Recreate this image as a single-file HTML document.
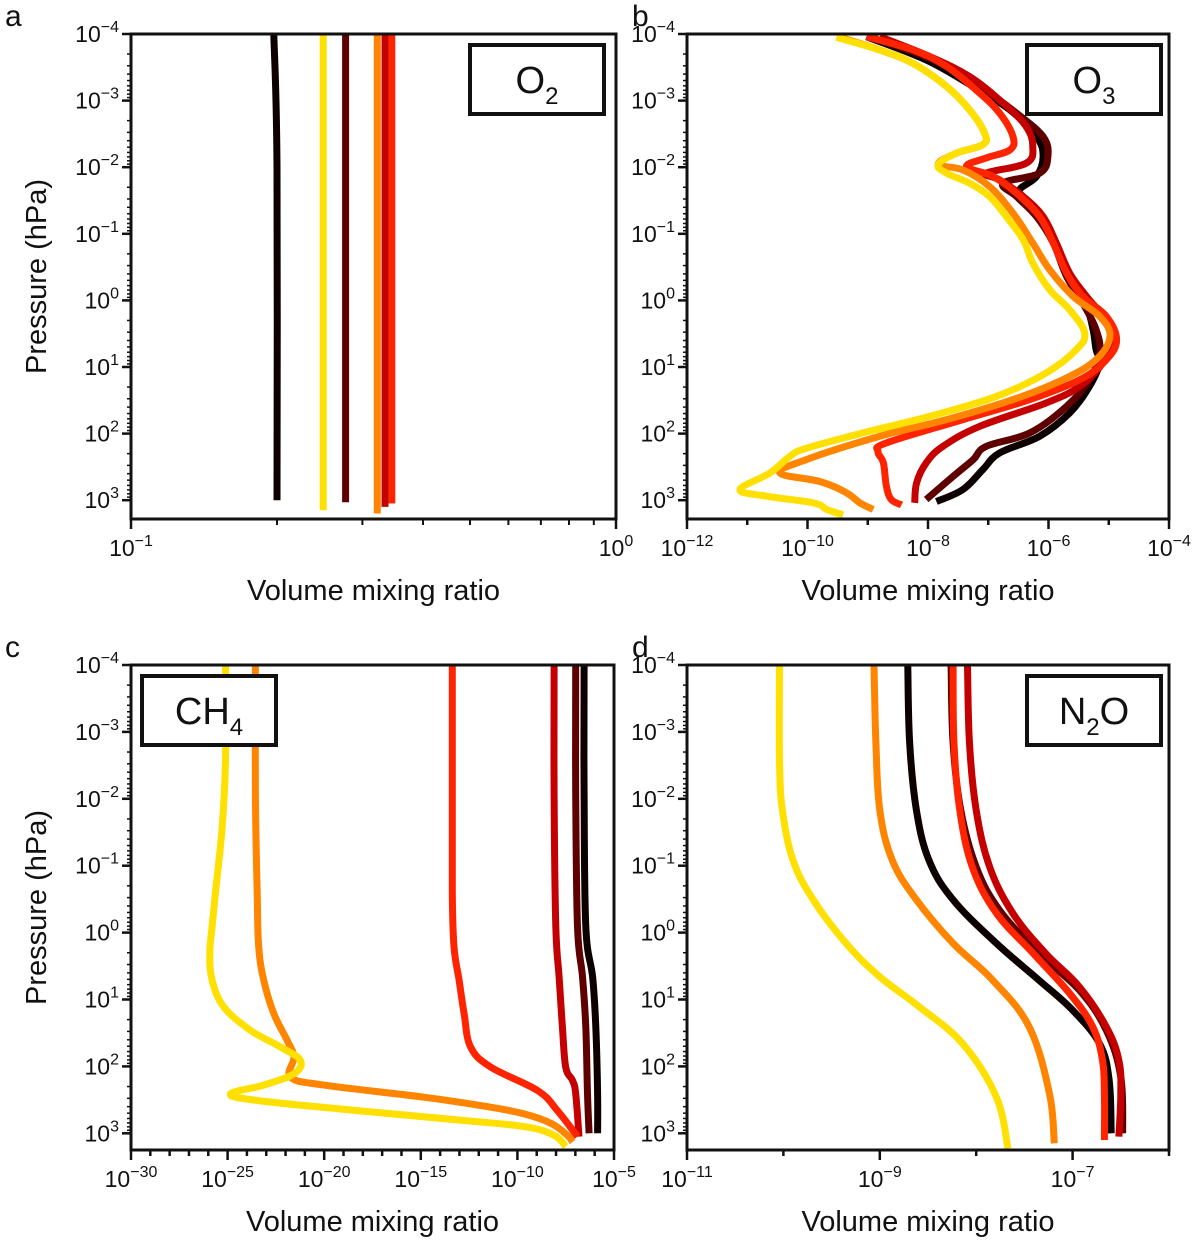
<!DOCTYPE html>
<html><head><meta charset="utf-8">
<style>
html,body{margin:0;padding:0;background:#fff;}
svg{display:block;font-family:"Liberation Sans",sans-serif;}
</style></head>
<body>
<svg id="fig" width="1200" height="1245" viewBox="0 0 1200 1245" xmlns="http://www.w3.org/2000/svg"></svg>
<script>
// Colours for series (cold to hot ordering)
const seriesNames = ["black","darkred","crimson","red","orange","yellow"];
const seriesColors = ["#0d0000","#5e0000","#c40000","#ff2400","#ff8400","#ffe000"];

// Panel a: O2 (VMR constant) - pressure endpoints (log10 hPa) and VMR values
const o2TopLogP = [-4,-4,-4,-4,-4,-4];
const o2BotLogP = [3.0,3.03,3.1,3.05,3.2,3.15];
const o2Vmr = [0.197,0.277,0.334,0.345,0.322,0.249];
const o2BlackMidVmr = 0.2;

// Panel b: O3  (log10 pressure, log10 VMR)
const o3BlackLogP = [-3.96,-3.61,-3.21,-2.86,-2.46,-2.16,-1.86,-1.66,-1.51,-1.21,-0.81,-0.36,0.09,0.44,0.74,0.94,1.29,1.69,2.04,2.29,2.54,2.84,3.02];
const o3BlackLogX = [-9.02,-8.03,-7.25,-6.64,-6.20,-6.09,-6.20,-6.48,-6.37,-6.09,-5.87,-5.65,-5.37,-5.26,-5.21,-5.15,-5.32,-5.65,-6.15,-6.81,-7.09,-7.42,-7.86];
const o3DarkLogP = [-3.96,-3.61,-3.21,-2.81,-2.46,-2.16,-1.91,-1.76,-1.56,-1.26,-0.86,-0.36,0.04,0.44,0.79,1.19,1.59,1.99,2.19,2.39,2.64,2.99];
const o3DarkLogX = [-8.97,-7.91,-7.14,-6.53,-6.09,-6.01,-6.15,-6.75,-6.53,-6.20,-5.92,-5.70,-5.43,-5.21,-5.15,-5.32,-5.70,-6.31,-7.03,-7.25,-7.58,-8.03];
const o3CrimsonLogP = [-3.96,-3.66,-3.36,-2.96,-2.61,-2.31,-2.06,-1.91,-1.81,-1.56,-1.26,-0.86,-0.41,-0.06,0.24,0.59,0.94,1.29,1.54,1.89,2.19,2.44,2.74,3.04];
const o3CrimsonLogX = [-8.80,-7.97,-7.31,-6.75,-6.37,-6.26,-6.37,-7.03,-6.81,-6.42,-6.09,-5.87,-5.65,-5.37,-5.10,-4.93,-5.10,-5.48,-6.04,-7.14,-7.75,-8.03,-8.19,-8.22];
const o3RedLogP = [-3.96,-3.76,-3.51,-3.11,-2.81,-2.46,-2.26,-2.14,-2.01,-1.86,-1.61,-1.26,-0.86,-0.41,-0.06,0.24,0.59,0.89,1.19,1.49,1.79,2.14,2.27,2.44,2.79,2.99,3.07];
const o3RedLogX = [-9.02,-8.25,-7.69,-7.14,-6.81,-6.59,-6.64,-7.03,-7.36,-6.92,-6.53,-6.15,-5.92,-5.70,-5.43,-5.04,-4.87,-5.04,-5.48,-6.31,-7.42,-8.69,-8.83,-8.74,-8.69,-8.61,-8.44];
const o3OrangeLogP = [-3.95,-3.76,-3.56,-3.21,-2.86,-2.51,-2.34,-2.21,-2.04,-1.96,-1.71,-1.31,-0.86,-0.46,-0.06,0.24,0.54,0.89,1.19,1.49,1.79,2.04,2.39,2.59,2.72,2.89,3.04,3.14];
const o3OrangeLogX = [-9.46,-8.80,-8.25,-7.69,-7.31,-7.06,-7.09,-7.53,-7.83,-7.42,-6.98,-6.59,-6.26,-5.98,-5.59,-5.15,-4.98,-5.21,-5.76,-6.59,-7.69,-8.80,-10.02,-10.46,-9.79,-9.35,-9.13,-8.91];
const o3YellowLogP = [-3.95,-3.76,-3.56,-3.21,-2.86,-2.51,-2.34,-2.21,-2.04,-1.91,-1.76,-1.56,-1.26,-0.91,-0.56,-0.16,0.14,0.49,0.74,1.09,1.44,1.74,1.99,2.22,2.34,2.59,2.84,2.94,3.04,3.14,3.22];
const o3YellowLogX = [-9.52,-8.80,-8.25,-7.69,-7.31,-7.06,-7.09,-7.53,-7.83,-7.69,-7.31,-6.98,-6.70,-6.42,-6.26,-5.98,-5.65,-5.40,-5.54,-6.04,-6.86,-7.97,-9.08,-10.02,-10.29,-10.62,-11.12,-10.68,-9.90,-9.68,-9.41];

// Panel c: CH4
const ch4BlackLogP = [-3.98,-2.08,-0.09,0.66,1.41,2.41,3.0];
const ch4BlackLogX = [-6.55,-6.55,-6.46,-6.11,-5.94,-5.85,-5.85];
const ch4DarkLogP = [-3.98,-2.08,-0.09,0.66,1.41,2.41,3.0];
const ch4DarkLogX = [-6.98,-6.98,-6.89,-6.63,-6.46,-6.37,-6.29];
const ch4CrimsonLogP = [-3.98,-2.08,-0.09,0.66,1.41,2.01,2.21,2.41,3.05];
const ch4CrimsonLogX = [-8.10,-8.10,-8.01,-7.84,-7.67,-7.50,-7.15,-6.98,-6.81];
const ch4RedLogP = [-3.98,-2.08,-0.59,0.21,0.71,1.21,1.71,2.01,2.36,2.66,3.05];
const ch4RedLogX = [-13.37,-13.37,-13.37,-13.28,-13.02,-12.76,-12.42,-11.38,-8.96,-7.93,-6.89];
const ch4OrangeLogP = [-3.98,-2.08,-0.59,0.21,0.71,1.21,1.61,1.86,2.16,2.28,2.46,2.61,2.71,2.85,3.03,3.13];
const ch4OrangeLogX = [-23.56,-23.56,-23.47,-23.39,-23.13,-22.61,-21.92,-21.57,-21.74,-20.02,-14.84,-11.38,-9.65,-8.27,-7.41,-7.15];
const ch4YellowLogP = [-3.98,-2.58,-1.58,-0.59,-0.09,0.31,0.71,1.11,1.46,1.71,1.91,2.11,2.28,2.41,2.51,2.66,2.80,2.90,3.03,3.20];
const ch4YellowLogX = [-25.11,-25.11,-25.28,-25.63,-25.80,-25.92,-25.80,-25.20,-23.82,-22.26,-21.23,-21.57,-23.13,-24.85,-23.47,-18.29,-13.11,-9.65,-8.10,-7.50];

// Panel d: N2O
const n2oBlackLogP = [-3.98,-2.83,-1.83,-1.08,-0.49,0.16,0.71,1.16,1.66,2.21,3.0];
const n2oBlackLogX = [-8.71,-8.69,-8.62,-8.49,-8.24,-7.79,-7.35,-7.00,-6.72,-6.62,-6.60];
const n2oDarkLogP = [-3.98,-2.83,-1.83,-0.98,-0.34,0.31,0.86,1.46,2.16,3.0];
const n2oDarkLogX = [-8.26,-8.24,-8.16,-8.00,-7.76,-7.35,-6.93,-6.65,-6.50,-6.48];
const n2oCrimsonLogP = [-3.98,-2.83,-1.83,-0.98,-0.29,0.31,0.81,1.41,1.91,2.41,3.05];
const n2oCrimsonLogX = [-8.09,-8.07,-8.00,-7.86,-7.62,-7.28,-6.93,-6.65,-6.52,-6.50,-6.52];
const n2oRedLogP = [-3.98,-2.83,-1.83,-0.98,-0.29,0.31,0.91,1.41,1.91,2.41,3.10];
const n2oRedLogX = [-8.24,-8.23,-8.17,-8.04,-7.79,-7.41,-7.03,-6.79,-6.69,-6.67,-6.67];
const n2oOrangeLogP = [-3.98,-2.83,-1.83,-1.08,-0.49,0.16,0.71,1.41,2.41,3.15];
const n2oOrangeLogX = [-9.06,-9.04,-9.00,-8.87,-8.62,-8.24,-7.83,-7.45,-7.24,-7.19];
const n2oYellowLogP = [-3.98,-2.58,-1.83,-1.08,-0.49,0.16,0.66,1.11,1.66,2.46,3.23];
const n2oYellowLogX = [-10.04,-10.04,-10.01,-9.90,-9.69,-9.35,-9.00,-8.59,-8.14,-7.79,-7.67];

const yTickExps = [-4,-3,-2,-1,0,1,2,3];

const NS = "http://www.w3.org/2000/svg";
const svg = document.getElementById("fig");
function mk(tag, attrs, parent){
  const e = document.createElementNS(NS, tag);
  for (const k in attrs) e.setAttribute(k, attrs[k]);
  (parent||svg).appendChild(e);
  return e;
}
function powLabel(parent, x, y, exp, anchor){
  const t = mk("text", {x:x, y:y, "font-size":"23", "text-anchor":anchor, fill:"#111"}, parent);
  
  
  const s1 = document.createElementNS(NS,"tspan"); s1.textContent = "10"; t.appendChild(s1);
  const s2 = document.createElementNS(NS,"tspan");
  s2.setAttribute("dy","-10"); s2.setAttribute("font-size","16");
  s2.textContent = (exp < 0 ? "\u2212" + (-exp) : String(exp));
  t.appendChild(s2);
}
function smoothPath(pts){
  if (pts.length < 3) return "M" + pts.map(p => p[0].toFixed(1)+","+p[1].toFixed(1)).join(" L");
  let d = "M" + pts[0][0].toFixed(1) + "," + pts[0][1].toFixed(1);
  for (let i = 0; i < pts.length - 1; i++){
    const p0 = pts[Math.max(0,i-1)], p1 = pts[i], p2 = pts[i+1], p3 = pts[Math.min(pts.length-1,i+2)];
    const t = 0.18;
    const c1x = p1[0] + (p2[0]-p0[0])*t, c1y = p1[1] + (p2[1]-p0[1])*t;
    const c2x = p2[0] - (p3[0]-p1[0])*t, c2y = p2[1] - (p3[1]-p1[1])*t;
    d += " C" + c1x.toFixed(1)+","+c1y.toFixed(1)+" "+c2x.toFixed(1)+","+c2y.toFixed(1)+" "+p2[0].toFixed(1)+","+p2[1].toFixed(1);
  }
  return d;
}

function panel(cfg){
  const g = mk("g", {});
  
  
  const L = cfg.left, R = cfg.right, T = cfg.top, B = cfg.bottom;
  const yAt = lp => T + (lp - (-4)) * cfg.dec;
  const xAt = lx => L + (lx - cfg.xmin) / (cfg.xmax - cfg.xmin) * (R - L);
  const cid = "clip-" + cfg.letter;
  const cp = mk("clipPath", {id: cid}, g);
  mk("rect", {x:L, y:T, width:R-L, height:B-T}, cp);
  const sg = mk("g", {"clip-path":"url(#"+cid+")"}, g);
  cfg.series.forEach((s, i) => {
    const pts = s.p.map((lp, k) => [xAt(s.x[k]), yAt(lp)]);
    const pl = mk("path", {d: smoothPath(pts), fill:"none", stroke: s.color, "stroke-width":"7", "stroke-linejoin":"round", "stroke-linecap":"butt"}, sg);
    
    
  });
  const fr = mk("rect", {x:L, y:T, width:R-L, height:B-T, fill:"none", stroke:"#111", "stroke-width":"3"}, g);
  
  
  yTickExps.forEach(e => {
    const y = yAt(e);
    mk("line", {x1:L-9, x2:L, y1:y, y2:y, stroke:"#111", "stroke-width":"2.5"}, g);
    powLabel(g, L-12, y+8, e, "end");
    for (let m = 2; m <= 9; m++){
      const ym = yAt(e + Math.log10(m));
      if (ym > B) break;
      mk("line", {x1:L-4, x2:L, y1:ym, y2:ym, stroke:"#111", "stroke-width":"1.5"}, g);
    }
  });
  cfg.xTicks.forEach(e => {
    const x = xAt(e);
    const lab = cfg.xLabels.indexOf(e) >= 0;
    mk("line", {x1:x, x2:x, y1:B, y2:B+(lab?10:6), stroke:"#111", "stroke-width":"2.5"}, g);
    if (lab) powLabel(g, x, B+37, e, "middle");
  });
  if (cfg.xMinor) cfg.xMinor.forEach(v => {
    const x = xAt(v);
    mk("line", {x1:x, x2:x, y1:B, y2:B+6, stroke:"#111", "stroke-width":"2"}, g);
  });
  const xt = mk("text", {x:(L+R)/2, y:B+81, "font-size":"29", "text-anchor":"middle", fill:"#111"}, g);
  xt.textContent = "Volume mixing ratio";
  
  
  if (cfg.yTitle){
    const yt = mk("text", {x:0, y:0, "font-size":"29", "text-anchor":"middle", fill:"#111", transform:"translate(46,"+((T+B)/2)+") rotate(-90)"}, g);
    yt.textContent = "Pressure (hPa)";
    
    
  }
  const pl = mk("text", {x:cfg.letterX, y:T-8, "font-size":"30", fill:"#111"}, g);
  pl.textContent = cfg.letter;
  
  
  const bx = cfg.boxX, by = T + 11;
  const br = mk("rect", {x:bx, y:by, width:134, height:69, fill:"#fff", stroke:"#111", "stroke-width":"4"}, g);
  
  
  const st = mk("text", {x:bx+67, y:by+48, "font-size":"38", "text-anchor":"middle", fill:"#111"}, g);
  
  
  cfg.boxText.forEach(part => {
    const ts = document.createElementNS(NS, "tspan");
    ts.textContent = part[0];
    if (part[1]) { ts.setAttribute("font-size","24"); ts.setAttribute("dy","11"); }
    else if (part[2]) { ts.setAttribute("dy","-11"); }
    st.appendChild(ts);
  });
}

function range(a,b){const r=[];for(let i=a;i<=b;i++)r.push(i);return r;}

const o2Series = seriesNames.map((n,i) => {
  const p = n === "black" ? [o2TopLogP[i], -2, o2BotLogP[i]] : [o2TopLogP[i], o2BotLogP[i]];
  const x = n === "black" ? [Math.log10(o2Vmr[i]), Math.log10(o2BlackMidVmr), Math.log10(o2BlackMidVmr)] : [Math.log10(o2Vmr[i]), Math.log10(o2Vmr[i])];
  return {label:n, color:seriesColors[i], p:p, x:x};
});
panel({name:"panel-a-o2", species:"o2", letter:"a", letterX:5, left:131, right:616, top:34, bottom:519, dec:66.6,
  xmin:-1, xmax:0, xTicks:[-1,0], xLabels:[-1,0], xMinor:[2,3,4,5,6,7,8,9].map(m=>Math.log10(m/10)),
  yTitle:true, boxX:470, boxText:[["O"],["2",true]], series:o2Series});

function mkSeries(arrs){
  return seriesNames.map((n,i)=>({label:n, color:seriesColors[i], p:arrs[i][0], x:arrs[i][1]}));
}
panel({name:"panel-b-o3", species:"o3", letter:"b", letterX:632, left:687, right:1169, top:34, bottom:519, dec:66.6,
  xmin:-12, xmax:-4, xTicks:range(-12,-4), xLabels:[-12,-10,-8,-6,-4],
  yTitle:false, boxX:1027, boxText:[["O"],["3",true]],
  series:mkSeries([[o3BlackLogP,o3BlackLogX],[o3DarkLogP,o3DarkLogX],[o3CrimsonLogP,o3CrimsonLogX],[o3RedLogP,o3RedLogX],[o3OrangeLogP,o3OrangeLogX],[o3YellowLogP,o3YellowLogX]])});
panel({name:"panel-c-ch4", species:"ch4", letter:"c", letterX:5, left:131, right:614, top:665, bottom:1150, dec:66.9,
  xmin:-30, xmax:-5, xTicks:range(-30,-5), xLabels:[-30,-25,-20,-15,-10,-5],
  yTitle:true, boxX:142, boxText:[["CH"],["4",true]],
  series:mkSeries([[ch4BlackLogP,ch4BlackLogX],[ch4DarkLogP,ch4DarkLogX],[ch4CrimsonLogP,ch4CrimsonLogX],[ch4RedLogP,ch4RedLogX],[ch4OrangeLogP,ch4OrangeLogX],[ch4YellowLogP,ch4YellowLogX]])});
panel({name:"panel-d-n2o", species:"n2o", letter:"d", letterX:632, left:687, right:1169, top:665, bottom:1150, dec:66.9,
  xmin:-11, xmax:-6, xTicks:range(-11,-6), xLabels:[-11,-9,-7],
  yTitle:false, boxX:1027, boxText:[["N"],["2",true],["O",false,true]],
  series:mkSeries([[n2oBlackLogP,n2oBlackLogX],[n2oDarkLogP,n2oDarkLogX],[n2oCrimsonLogP,n2oCrimsonLogX],[n2oRedLogP,n2oRedLogX],[n2oOrangeLogP,n2oOrangeLogX],[n2oYellowLogP,n2oYellowLogX]])});
</script>
</body></html>
